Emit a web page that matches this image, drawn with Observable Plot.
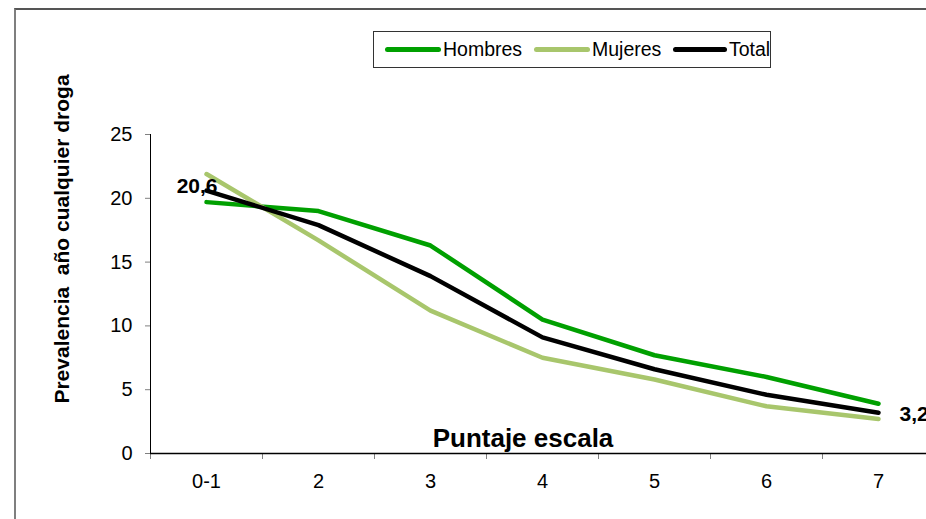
<!DOCTYPE html>
<html>
<head>
<meta charset="utf-8">
<script src="https://cdn.jsdelivr.net/npm/d3@7"></script>
<script src="https://cdn.jsdelivr.net/npm/@observablehq/plot@0.6"></script>
<style>
  html, body { margin: 0; padding: 0; background: #fff; }
  #wrap { position: relative; width: 926px; height: 519px; overflow: hidden; background: #fff; }
  #frame { position: absolute; left: 14px; top: 8px; width: 1000px; height: 600px; border-left: 2px solid #7f7f7f; border-top: 2px solid #555; }
  #chart { position: absolute; left: 0; top: 0; }
  #legend { position: absolute; left: 373px; top: 31px; width: 396px; height: 35px; border: 1px solid #333; background: #fff;
            font-family: "Liberation Sans", Arial, sans-serif; font-size: 19.5px; color: #000; }
  #legend .item { position: absolute; top: 0; height: 35px; line-height: 35px; }
  #legend .sw { position: absolute; top: 15px; height: 5px; border-radius: 3px; }
  #ytitle { position: absolute; left: 62px; top: 239px; transform: translate(-50%, -50%) rotate(-90deg); white-space: pre;
            font-family: "Liberation Sans", Arial, sans-serif; font-weight: bold; font-size: 21px; color: #000; }
  #xtitle { position: absolute; left: 523px; top: 438px; transform: translate(-50%, -50%); white-space: pre;
            font-family: "Liberation Sans", Arial, sans-serif; font-weight: bold; font-size: 26px; color: #000; }
  #chart svg { overflow: visible; }
  #chart [aria-label^="y-axis"] { color: #808080; }
  #chart [aria-label^="y-axis"] text, #chart [aria-label="y-axis tick label"] { color: #000; fill: #000; }
  #chart [aria-label^="x-axis"] { color: #808080; }
</style>
</head>
<body>
<div id="wrap">
  <div id="frame"></div>
  <div id="chart"></div>
  <div id="ytitle">Prevalencia  año cualquier droga</div>
  <div id="xtitle">Puntaje escala</div>
  <div id="legend"></div>
</div>
<script>
// ---- data ----
const categories = ["0-1", "2", "3", "4", "5", "6", "7"];
const hombres = [19.7, 19.0, 16.3, 10.5, 7.7, 6.0, 3.9];
const mujeres = [21.9, 16.7, 11.2, 7.5, 5.8, 3.7, 2.7];
const total   = [20.6, 17.9, 13.9, 9.1, 6.6, 4.6, 3.2];
const seriesNames = ["Hombres", "Mujeres", "Total"];
const seriesColors = ["#00a000", "#a8c66c", "#000000"];
const yTicks = [0, 5, 10, 15, 20, 25];
const labelledTotal = [0, 6]; // indices of Total values with data labels

// ---- build table ----
const seriesValues = [hombres, mujeres, total];
const rows = [];
seriesNames.forEach((s, k) => seriesValues[k].forEach((v, i) => rows.push({serie: s, i, v})));
const boundaries = d3.range(categories.length + 1).map(i => i - 0.5);
const fmt = v => String(v).replace(".", ",");

const plot = Plot.plot({
  width: 926,
  height: 519,
  marginLeft: 150,
  marginRight: 0,
  marginTop: 134,
  marginBottom: 66,
  style: { fontFamily: "Liberation Sans, Arial, sans-serif", fontSize: "20px", background: "transparent", overflow: "visible" },
  x: { type: "linear", domain: [-0.5, categories.length - 0.5], range: [150, 934],
       ticks: boundaries, tickFormat: () => "", tickSize: 6, label: null },
  y: { domain: [0, 25], range: [453, 134], ticks: yTicks, tickSize: 5, tickPadding: 13, line: true, label: null },
  color: { domain: seriesNames, range: seriesColors },
  marks: [
    Plot.ruleY([0], { stroke: "#000", strokeWidth: 1.5 }),
    Plot.text(categories, { x: (d, i) => i, y: 0, text: d => d, dy: 28, fontSize: 20, fill: "#000" }),
    ...seriesNames.map(s => Plot.line(rows.filter(r => r.serie === s), {
      x: "i", y: "v", stroke: "serie", strokeWidth: 4.5, strokeLinecap: "round", strokeLinejoin: "round"
    })),
    Plot.text(labelledTotal.filter(i => i === 0).map(i => ({i, v: total[i]})), {
      x: "i", y: "v", text: d => fmt(d.v), textAnchor: "end", dx: 11, dy: -4, fontWeight: "bold", fontSize: 21, fill: "#000"
    }),
    Plot.text(labelledTotal.filter(i => i !== 0).map(i => ({i, v: total[i]})), {
      x: "i", y: "v", text: d => fmt(d.v), textAnchor: "start", dx: 21, dy: 2, fontWeight: "bold", fontSize: 21, fill: "#000"
    })
  ]
});
document.getElementById("chart").appendChild(plot);

// ---- legend ----
const legend = document.getElementById("legend");
const legendPos = [[11, 69], [160, 218], [299, 355]];
seriesNames.forEach((s, k) => {
  const sw = document.createElement("div");
  sw.className = "sw";
  sw.style.left = legendPos[k][0] + "px";
  sw.style.width = (legendPos[k][1] - legendPos[k][0] - 2) + "px";
  sw.style.background = seriesColors[k];
  legend.appendChild(sw);
  const t = document.createElement("div");
  t.className = "item";
  t.style.left = legendPos[k][1] + "px";
  t.textContent = s;
  legend.appendChild(t);
});
</script>
</body>
</html>
